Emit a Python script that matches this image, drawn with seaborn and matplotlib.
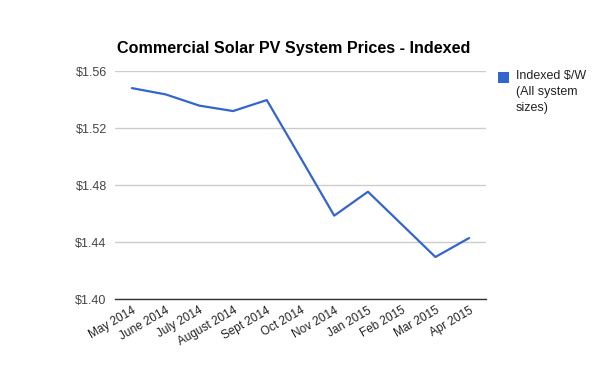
import pandas as pd
import matplotlib.pyplot as plt
import seaborn as sns
from matplotlib.patches import Rectangle

# Values
months = ["May 2014", "June 2014", "July 2014", "August 2014", "Sept 2014", "Oct 2014",
          "Nov 2014", "Jan 2015", "Feb 2015", "Mar 2015", "Apr 2015"]
price = [1.548, 1.5436, 1.5357, 1.5319, 1.5396, 1.4992,
         1.4585, 1.4753, 1.4524, 1.4295, 1.4428]
y_ticks = [1.40, 1.44, 1.48, 1.52, 1.56]
legend_label = "Indexed $/W\n(All system\nsizes)"

df = pd.DataFrame({"Month": months, "Price": price})
df["pos"] = range(len(df))

sns.set_style("white")
plt.rcParams['font.family'] = ['Liberation Sans', 'DejaVu Sans']

fig = plt.figure(figsize=(6, 3.71), dpi=100)
ax = fig.add_axes([0.1917, 0.194, 0.6183, 0.6146])

sns.lineplot(data=df, x="pos", y="Price", ax=ax, color="#3366CC", linewidth=1.6)

ax.set_xlim(-0.5, len(months) - 0.5)
ax.set_ylim(1.40, 1.56)
ax.set_yticks(y_ticks)
ax.set_yticklabels(["$%.2f" % v for v in y_ticks], color="#444444", fontsize=9)
ax.set_xticks(df["pos"])
ax.set_xticklabels(months, rotation=30, ha="right", rotation_mode="anchor",
                   color="#222222", fontsize=8.5)
ax.tick_params(axis="both", length=0, pad=6)
ax.tick_params(axis="x", pad=4)

ax.grid(axis="y", color="#cccccc", linewidth=1)
for s in ["left", "right", "top"]:
    ax.spines[s].set_visible(False)
ax.spines["bottom"].set_color("#333333")
ax.spines["bottom"].set_linewidth(1)
ax.set_xlabel("")
ax.set_ylabel("")

fig.text(0.49, 0.868, "Commercial Solar PV System Prices - Indexed",
         ha="center", va="center", fontsize=11.6, fontweight="bold", color="black")

# legend: blue square next to the first line of the label
fig.patches.append(Rectangle((498 / 600, 1 - 83 / 371), 11 / 600, 11 / 371,
                             transform=fig.transFigure, facecolor="#3366CC",
                             edgecolor="none"))
fig.text(516 / 600, 1 - 70 / 371, legend_label, ha="left", va="top",
         fontsize=9, color="#222222", linespacing=1.45)

fig.savefig("out.png", dpi=100)
